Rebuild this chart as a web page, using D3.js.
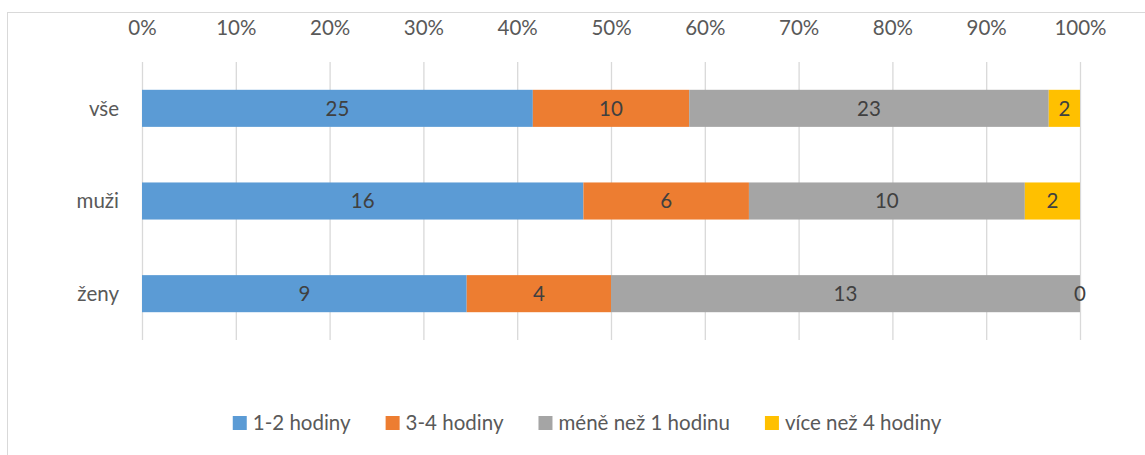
<!DOCTYPE html>
<html>
<head>
<meta charset="utf-8">
<script src="https://cdn.jsdelivr.net/npm/d3@7"></script>
<style>
  body { margin: 0; background: #fff; }
  text { font-family: Lato, "Open Sans", sans-serif; }
</style>
</head>
<body>
<svg id="chart" width="1145" height="455"></svg>
<script>
const categories = ['vše', 'muži', 'ženy'];
const seriesNames = ['1-2 hodiny', '3-4 hodiny', 'méně než 1 hodinu', 'více než 4 hodiny'];
const seriesColors = ['#5B9BD5', '#ED7D31', '#A5A5A5', '#FFC000'];
const hours12 = [25, 16, 9];
const hours34 = [10, 6, 4];
const lessThan1 = [23, 10, 13];
const moreThan4 = [2, 2, 0];
const tickValues = [0, 0.1, 0.2, 0.3, 0.4, 0.5, 0.6, 0.7, 0.8, 0.9, 1];

const width = 1145;
const height = 455;
const margin = { top: 62, left: 142, right: 65, bottom: 115 };
const fontSize = 20.5;

const svg = d3.select('#chart');

// chart frame
svg.append('rect')
    .attr('x', 7.5)
    .attr('y', 12.5)
    .attr('width', width)
    .attr('height', height)
    .attr('fill', 'none')
    .attr('stroke', '#d9d9d9');

const rows = categories.map((c, i) => ({
  cat: c,
  values: [hours12[i], hours34[i], lessThan1[i], moreThan4[i]],
}));

const x = d3.scaleLinear()
    .domain([0, 1])
    .range([margin.left, width - margin.right]);

const y = d3.scaleBand()
    .domain(categories)
    .range([margin.top, height - margin.bottom])
    .paddingInner(0.6)
    .paddingOuter(0.3);

// gridlines
svg.append('g')
    .selectAll('line')
    .data(tickValues)
    .join('line')
    .attr('x1', d => x(d) + 0.5)
    .attr('x2', d => x(d) + 0.5)
    .attr('y1', margin.top)
    .attr('y2', height - margin.bottom)
    .attr('stroke', '#d9d9d9')
    .attr('stroke-width', 1.3);

// top axis labels
const axis = svg.append('g')
    .attr('transform', `translate(0,${margin.top - 24})`)
    .call(d3.axisTop(x).tickValues(tickValues).tickFormat(d3.format('.0%')).tickSize(0));
axis.select('.domain').remove();
axis.selectAll('text')
    .attr('font-size', fontSize)
    .attr('fill', '#595959')
    .attr('dy', '0');
axis.selectAll('text').style('font-family', 'Lato, sans-serif');

// category labels
svg.append('g')
    .selectAll('text')
    .data(categories)
    .join('text')
    .attr('x', 119)
    .attr('y', d => y(d) + y.bandwidth() / 2)
    .attr('dy', '0.35em')
    .attr('text-anchor', 'end')
    .attr('font-size', fontSize)
    .attr('fill', '#595959')
    .text(d => d);

// stacked segments
const segs = [];
rows.forEach(r => {
  const total = d3.sum(r.values);
  let acc = 0;
  r.values.forEach((v, k) => {
    segs.push({ cat: r.cat, k, v, x0: acc / total, x1: (acc + v) / total });
    acc += v;
  });
});

svg.append('g')
    .selectAll('rect')
    .data(segs)
    .join('rect')
    .attr('x', d => x(d.x0))
    .attr('y', d => y(d.cat))
    .attr('width', d => x(d.x1) - x(d.x0))
    .attr('height', y.bandwidth())
    .attr('fill', d => seriesColors[d.k]);

svg.append('g')
    .selectAll('text')
    .data(segs)
    .join('text')
    .attr('x', d => (x(d.x0) + x(d.x1)) / 2)
    .attr('y', d => y(d.cat) + y.bandwidth() / 2)
    .attr('dy', '0.35em')
    .attr('text-anchor', 'middle')
    .attr('font-size', fontSize)
    .attr('fill', '#404040')
    .text(d => d.v);

// legend
const legend = svg.append('g').attr('transform', 'translate(0,423)');
const items = legend.selectAll('g')
    .data(seriesNames)
    .join('g');
items.append('rect')
    .attr('y', -7)
    .attr('width', 14)
    .attr('height', 14)
    .attr('fill', (d, i) => seriesColors[i]);
items.append('text')
    .attr('x', 20)
    .attr('dy', '0.35em')
    .attr('font-size', fontSize)
    .attr('fill', '#595959')
    .text(d => d);

let pos = 0;
const offsets = [];
items.each(function () {
  offsets.push(pos);
  const w = d3.select(this).select('text').node().getComputedTextLength();
  pos += 20 + w + 35;
});
const total = pos - 35;
const start = 587 - total / 2;
items.attr('transform', (d, i) => `translate(${start + offsets[i]},0)`);
</script>
</body>
</html>
